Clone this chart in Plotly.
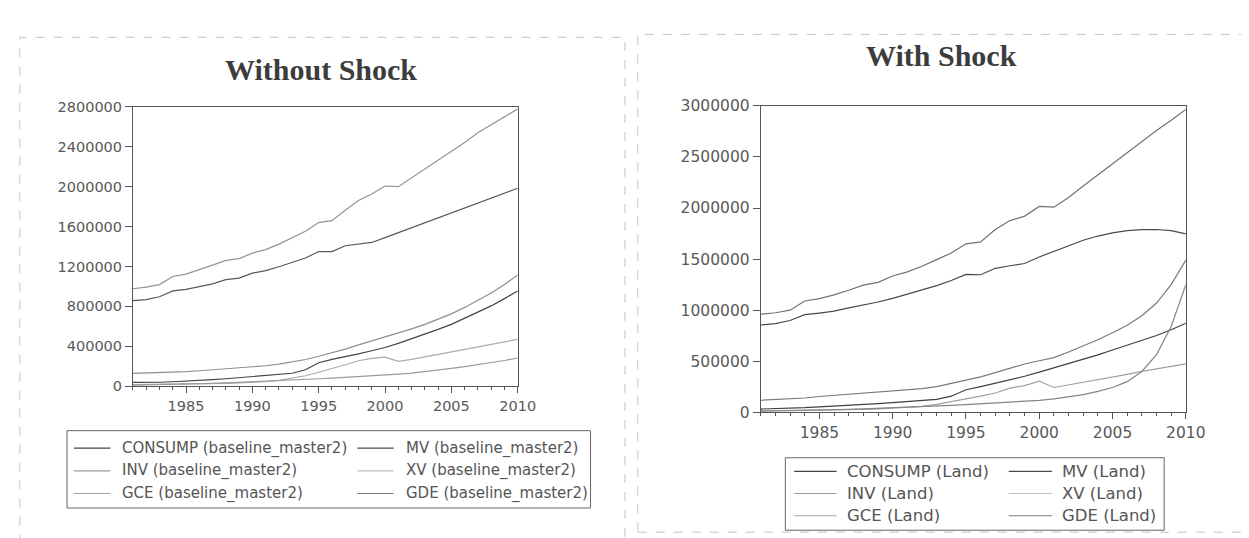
import plotly.graph_objects as go

W, H = 1249, 538

years = list(range(1981, 2011))

# ---- Without Shock (baseline_master2) ----
consump_b = [858000, 868000, 897000, 955000, 971000, 997000, 1026000, 1068000, 1084000, 1133000,
             1159000, 1198000, 1240000, 1285000, 1350000, 1350000, 1408000, 1424000, 1441000, 1489000,
             1538000, 1586000, 1635000, 1683000, 1732000, 1781000, 1835000, 1884000, 1930000, 1985000]
mv_b = [39000, 38000, 40000, 45000, 50000, 58000, 66000, 75000, 85000, 97000,
        105000, 115000, 130000, 165000, 235000, 269000, 295000, 324000, 356000, 388000,
        430000, 475000, 522000, 570000, 620000, 680000, 740000, 805000, 878000, 955000]
inv_b = [15000, 16000, 17000, 18000, 20000, 23000, 26000, 29000, 33000, 38000,
         45000, 58000, 78000, 105000, 140000, 175000, 215000, 255000, 280000, 291000,
         250000, 270000, 295000, 320000, 345000, 370000, 395000, 420000, 445000, 470000]
xv_b = [10000, 12000, 14000, 17000, 20000, 24000, 28000, 33000, 38000, 44000,
        50000, 56000, 62000, 68000, 75000, 82000, 89000, 96000, 104000, 113000,
        122000, 132000, 145000, 160000, 178000, 196000, 215000, 236000, 258000, 283000]
gce_b = [129000, 132000, 136000, 140000, 146000, 155000, 165000, 175000, 184000, 194000,
         205000, 222000, 242000, 268000, 300000, 335000, 372000, 414000, 453000, 495000,
         530000, 575000, 620000, 670000, 725000, 790000, 860000, 935000, 1020000, 1115000]
gde_b = [977000, 994000, 1019000, 1100000, 1123000, 1165000, 1214000, 1262000, 1279000, 1334000,
         1369000, 1424000, 1489000, 1553000, 1640000, 1660000, 1764000, 1861000, 1926000, 2007000,
         2000000, 2087000, 2175000, 2266000, 2353000, 2444000, 2541000, 2621000, 2700000, 2780000]

# ---- With Shock (Land) ----
consump_l = [855000, 868000, 899000, 956000, 972000, 990000, 1022000, 1050000, 1080000, 1115000,
             1155000, 1195000, 1240000, 1290000, 1350000, 1347000, 1410000, 1435000, 1457000, 1521000,
             1574000, 1631000, 1685000, 1726000, 1757000, 1779000, 1789000, 1790000, 1779000, 1748000]
mv_l = [32000, 35000, 40000, 45000, 54000, 60000, 68000, 76000, 85000, 95000,
        105000, 115000, 126000, 158000, 221000, 252000, 284000, 316000, 353000, 394000,
        435000, 480000, 520000, 562000, 610000, 655000, 702000, 752000, 808000, 872000]
inv_l = [15000, 16000, 17000, 18000, 20000, 23000, 26000, 29000, 33000, 40000,
         47000, 58000, 78000, 105000, 126000, 158000, 189000, 237000, 262000, 306000,
         243000, 268000, 293000, 322000, 347000, 372000, 401000, 426000, 451000, 475000]
xv_l = [10000, 12000, 14000, 17000, 20000, 24000, 28000, 33000, 38000, 44000,
        50000, 56000, 62000, 68000, 76000, 84000, 92000, 100000, 108000, 117000,
        132000, 151000, 174000, 205000, 243000, 300000, 400000, 565000, 840000, 1250000]
gce_l = [118000, 124000, 131000, 140000, 155000, 165000, 175000, 185000, 198000, 211000,
         220000, 232000, 252000, 282000, 316000, 347000, 388000, 432000, 473000, 505000,
         536000, 590000, 647000, 710000, 779000, 852000, 946000, 1070000, 1250000, 1490000]
gde_l = [960000, 975000, 1000000, 1090000, 1114000, 1150000, 1195000, 1245000, 1272000, 1335000,
         1375000, 1430000, 1495000, 1560000, 1650000, 1669000, 1789000, 1877000, 1921000, 2016000,
         2009000, 2104000, 2215000, 2325000, 2435000, 2540000, 2650000, 2760000, 2860000, 2965000]

names = ["CONSUMP", "MV", "INV", "XV", "GCE", "GDE"]
left_series = [consump_b, mv_b, inv_b, xv_b, gce_b, gde_b]
right_series = [consump_l, mv_l, inv_l, xv_l, gce_l, gde_l]
left_colors = ["#585858", "#444444", "#ababab", "#9a9a9a", "#8f8f8f", "#949494"]
right_colors = ["#4a4a4a", "#404040", "#a0a0a0", "#858585", "#7a7a7a", "#727272"]
legend_colors = ["#444444", "#4a4a4a", "#9a9a9a", "#c0c0c0", "#a0a0a0", "#7a7a7a"]

left_yticks = [0, 400000, 800000, 1200000, 1600000, 2000000, 2400000, 2800000]
right_yticks = [0, 500000, 1000000, 1500000, 2000000, 2500000, 3000000]
xticks = [1985, 1990, 1995, 2000, 2005, 2010]

def px(x):
    return x / W

def py(y):
    return 1 - y / H

fig = go.Figure()
for nm, s, c in zip(names, left_series, left_colors):
    fig.add_trace(go.Scatter(x=years, y=s, mode="lines", name=nm + " (baseline_master2)",
                             line=dict(color=c, width=1.2), xaxis="x", yaxis="y", showlegend=False))
for nm, s, c in zip(names, right_series, right_colors):
    fig.add_trace(go.Scatter(x=years, y=s, mode="lines", name=nm + " (Land)",
                             line=dict(color=c, width=1.2), xaxis="x2", yaxis="y2", showlegend=False))

axcol = "#555555"
def xaxis(domain, anchor, size):
    return dict(domain=domain, anchor=anchor, range=[1981, 2010], tickvals=xticks,
                ticks="outside", ticklen=6, tickcolor=axcol, tickwidth=1,
                minor=dict(dtick=1, tick0=1981, ticks="outside", ticklen=3, tickcolor=axcol),
                showline=True, linecolor=axcol, linewidth=1, mirror=True, showgrid=False,
                zeroline=False, tickfont=dict(family="DejaVu Sans", size=size, color="#595959"))

def yaxis(domain, anchor, rng, tv, size):
    return dict(domain=domain, anchor=anchor, range=rng, tickvals=tv, tickformat="d",
                ticks="outside", ticklen=7, tickcolor=axcol, tickwidth=1,
                showline=True, linecolor=axcol, linewidth=1, mirror=True, showgrid=False,
                zeroline=False, tickfont=dict(family="DejaVu Sans", size=size, color="#595959"))

fig.update_layout(
    width=W, height=H, margin=dict(l=0, r=0, t=0, b=0),
    paper_bgcolor="white", plot_bgcolor="white", showlegend=False,
    xaxis=xaxis([px(127), px(518)], "y", 14.5),
    yaxis=yaxis([py(382), py(93)], "x", [0, 2800000], left_yticks, 14.5),
    xaxis2=xaxis([px(765), px(1197)], "y2", 15.5),
    yaxis2=yaxis([py(409), py(92)], "x2", [0, 3000000], right_yticks, 15.5),
)

shapes = []
annotations = []
# panel (scanned) dashed borders
shapes.append(dict(type="rect", xref="paper", yref="paper", x0=px(12), x1=px(627), y0=py(545), y1=py(21),
                   line=dict(color="#c4c4c4", width=1, dash="dash")))
shapes.append(dict(type="rect", xref="paper", yref="paper", x0=px(640), x1=px(1255), y0=py(533), y1=py(18),
                   line=dict(color="#c4c4c4", width=1, dash="dash")))

# titles
annotations.append(dict(text="<b>Without Shock</b>", x=px(318), y=py(54), xref="paper", yref="paper",
                        xanchor="center", yanchor="middle", showarrow=False,
                        font=dict(family="Liberation Serif", size=30, color="#3c3c3c")))
annotations.append(dict(text="<b>With Shock</b>", x=px(949), y=py(40), xref="paper", yref="paper",
                        xanchor="center", yanchor="middle", showarrow=False,
                        font=dict(family="Liberation Serif", size=30, color="#3c3c3c")))

# legends (manual, EViews style)
def legend(box, rows, cols, labels, size):
    x0, x1, y0, y1 = box
    shapes.append(dict(type="rect", xref="paper", yref="paper", x0=px(x0), x1=px(x1), y0=py(y1), y1=py(y0),
                       line=dict(color="#666", width=1)))
    for i, lab in enumerate(labels):
        r, c = divmod(i, 2)
        lx0, lx1, tx = cols[c]
        yy = rows[r]
        shapes.append(dict(type="line", xref="paper", yref="paper", x0=px(lx0), x1=px(lx1),
                           y0=py(yy), y1=py(yy), line=dict(color=legend_colors[i], width=1.2)))
        annotations.append(dict(text=lab, x=px(tx), y=py(yy), xref="paper", yref="paper",
                                xanchor="left", yanchor="middle", showarrow=False,
                                font=dict(family="DejaVu Sans", size=size, color="#555")))

legend((60, 592, 428, 508), [446, 469.5, 493], [(67, 104, 114), (355, 392, 402)],
       [n + " (baseline_master2)" for n in names], 15)
legend((790, 1175, 456, 531), [470, 493, 516], [(799, 842, 851), (1017, 1061, 1069)],
       [n + " (Land)" for n in names], 16.5)

fig.update_layout(shapes=shapes, annotations=annotations)
fig.write_html("out.html")
